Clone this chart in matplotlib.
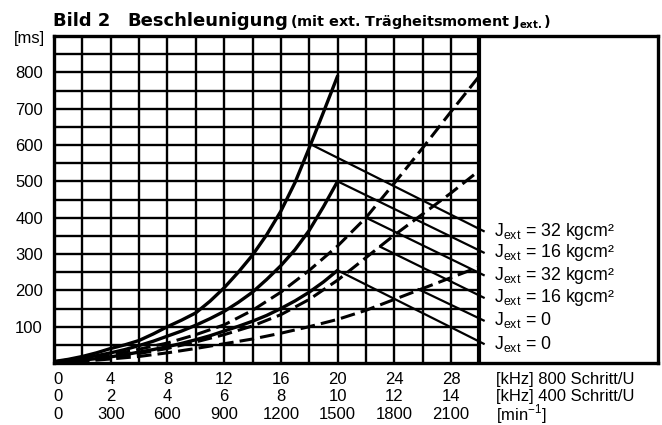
import numpy as np
import matplotlib
matplotlib.use("Agg")
import matplotlib.pyplot as plt
import matplotlib.transforms as mtransforms

plt.rcParams['font.family'] = ['Liberation Sans', 'DejaVu Sans']
plt.rcParams['mathtext.fontset'] = 'custom'
plt.rcParams['mathtext.rm'] = 'Liberation Sans'

# frequency axis [kHz] at 800 Schritt/U
khz_solid = [0, 1, 2, 3, 4, 5, 6, 7, 8, 9, 10, 11, 12, 13, 14, 15, 16, 17, 18, 19, 20]
khz_dashed = [0, 2, 4, 6, 8, 10, 12, 14, 16, 18, 20, 22, 24, 26, 28, 30]

# acceleration time [ms], 800 Schritt/U (solid)
t_solid_32 = [4, 10, 18, 28, 40, 50, 62, 80, 100, 118, 138, 170, 207, 250, 297,
              353, 418, 497, 592, 690, 790]
t_solid_16 = [3, 8, 14, 20, 28, 37, 48, 60, 74, 88, 104, 122, 142, 167, 195,
              230, 268, 312, 365, 430, 500]
t_solid_0 = [2, 5, 8, 12, 17, 23, 30, 37, 45, 54, 64, 75, 88, 101, 115,
             131, 150, 171, 195, 223, 255]

# acceleration time [ms], 400 Schritt/U (dashed)
t_dashed_32 = [3, 10, 22, 38, 55, 78, 105, 145, 195, 255, 322, 400, 495, 592, 692, 790]
t_dashed_16 = [2, 7, 15, 26, 40, 58, 78, 102, 133, 175, 228, 290, 352, 410, 468, 530]
t_dashed_0 = [1, 5, 11, 18, 28, 40, 53, 66, 82, 100, 120, 145, 175, 205, 235, 265]

# leader lines: start point on curve -> label end
lead_x0 = [18.2, 20.0, 22.0, 23.0, 25.7, 20.0]
lead_y0 = [600, 500, 400, 320, 203, 255]
lead_y1 = [363, 304, 242, 180, 117, 53]
lead_labels = [r'J$_\mathregular{ext}$ = 32 kgcm²',
               r'J$_\mathregular{ext}$ = 16 kgcm²',
               r'J$_\mathregular{ext}$ = 32 kgcm²',
               r'J$_\mathregular{ext}$ = 16 kgcm²',
               r'J$_\mathregular{ext}$ = 0',
               r'J$_\mathregular{ext}$ = 0']

y_ticks = [100, 200, 300, 400, 500, 600, 700, 800]
x_pos = [0, 4, 8, 12, 16, 20, 24, 28]
row_800 = ['0', '4', '8', '12', '16', '20', '24', '28']
row_400 = ['0', '2', '4', '6', '8', '10', '12', '14']
row_min = ['0', '300', '600', '900', '1200', '1500', '1800', '2100']
row_units = ['[kHz] 800 Schritt/U', '[kHz] 400 Schritt/U',
             r'[min$^{\mathregular{-1}}$]']

fig = plt.figure(figsize=(6.62, 4.25), dpi=100)
ax = fig.add_axes([54 / 662, 1 - 363 / 425, 604 / 662, 327 / 425])
ax.set_xlim(0, 604 / 14.18)
ax.set_ylim(0, 900)

# grid only inside the 0..30 kHz field
ax.vlines(np.arange(2, 30, 2), 0, 900, color='black', lw=1.7)
ax.hlines(np.arange(50, 900, 50), 0, 30, color='black', lw=1.7)
ax.axvline(30, color='black', lw=3.0)
for s in ax.spines.values():
    s.set_linewidth(2.4)

# curves
for t in (t_solid_32, t_solid_16, t_solid_0):
    ax.plot(khz_solid, t, color='black', lw=2.4, solid_capstyle='round')
for t in (t_dashed_32, t_dashed_16, t_dashed_0):
    ax.plot(khz_dashed, t, color='black', lw=2.2, ls=(0, (4.8, 2.0)))

# leader lines and labels
for x0, y0, y1, lab in zip(lead_x0, lead_y0, lead_y1, lead_labels):
    ax.plot([x0, 30.3], [y0, y1], color='black', lw=1.6)
    ax.text(31.0, y1, lab, fontsize=12.8, va='center', ha='left')

# y axis
ax.set_yticks(y_ticks)
ax.set_yticklabels([str(v) for v in y_ticks], fontsize=12)
ax.tick_params(axis='y', length=0, pad=8)
ax.set_xticks([])
ax.text(-0.015, 893, '[ms]', transform=mtransforms.blended_transform_factory(ax.transAxes, ax.transData),
        ha='right', va='center', fontsize=12)

# three rows of x labels
trans = mtransforms.blended_transform_factory(ax.transData, ax.transAxes)
row_y = [-0.049, -0.102, -0.156]
for yy, row, unit in zip(row_y, (row_800, row_400, row_min), row_units):
    for xp, lab in zip(x_pos, row):
        ax.text(xp + (0.3 if xp == 0 else 0), yy, lab, transform=trans,
                ha='center', va='center', fontsize=12)
    ax.text(31.2, yy, unit, transform=trans, ha='left', va='center', fontsize=12)

# title
fig.text(53 / 662, 1 - 26 / 425, 'Bild 2', fontsize=13, fontweight='bold',
         family='DejaVu Sans', va='baseline')
fig.text(127 / 662, 1 - 26 / 425, 'Beschleunigung', fontsize=13, fontweight='bold',
         family='DejaVu Sans', va='baseline')
fig.text(290 / 662, 1 - 26 / 425, r'(mit ext. Trägheitsmoment J$_\mathregular{ext.}$)',
         fontsize=10.4, fontweight='bold', family='DejaVu Sans', va='baseline')

fig.savefig('out.png', dpi=100, facecolor='white')
